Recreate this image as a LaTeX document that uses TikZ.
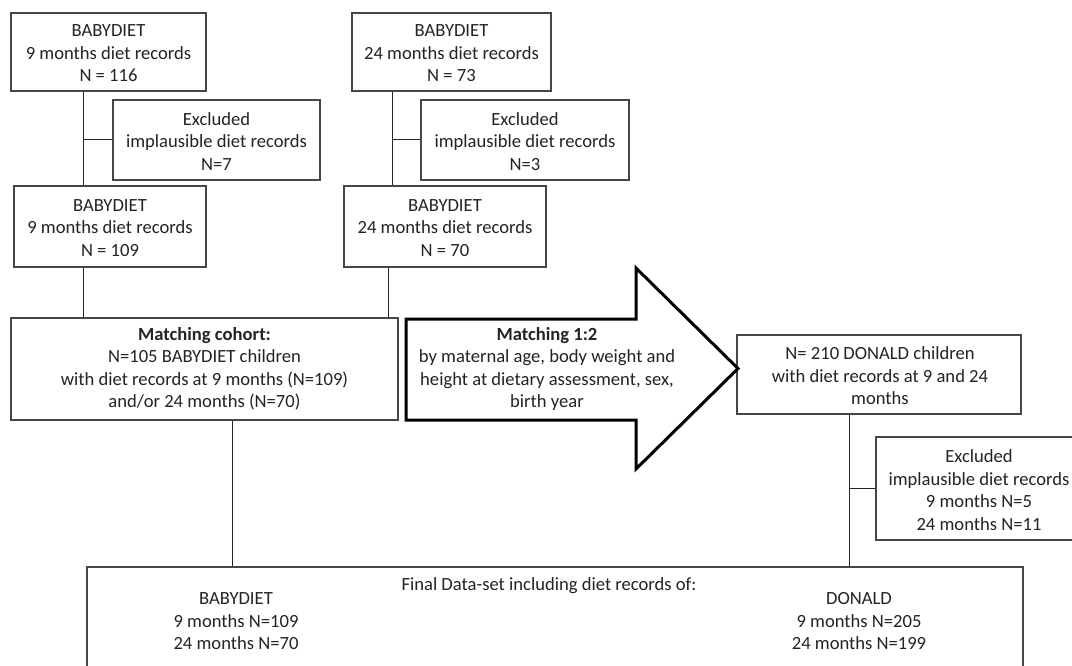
\documentclass[tikz,border=0pt]{standalone}
\usepackage{fontspec}
\setmainfont{Carlito}
\definecolor{txt}{RGB}{35,35,40}
\definecolor{bord}{RGB}{70,70,70}
\tikzset{
  box/.style={draw=bord, line width=1.3pt, fill=white, inner sep=0pt},
  lbl/.style={text=txt, align=center, inner sep=0pt, yshift=-1.5pt, font=\fontsize{18.6}{22.5}\selectfont},
  conn/.style={draw=black!85, line width=1pt},
  bigarrow/.style={draw=black, line width=3pt, line join=miter, fill=white}
}
\begin{document}
\begin{tikzpicture}[x=1pt,y=-1pt]
\useasboundingbox (0,0) rectangle (1072,666);
\clip (0,0) rectangle (1072,666);
% boxes
\node[box, minimum width=195, minimum height=78] (b9a) at (108.5,52) {};
\node[lbl] at (b9a) {BABYDIET\\9 months diet records\\N = 116};
\node[box, minimum width=199, minimum height=78] (b24a) at (451.5,52) {};
\node[lbl] at (b24a) {BABYDIET\\24 months diet records\\N = 73};
\node[box, minimum width=207, minimum height=80] (ex1) at (216.5,140) {};
\node[lbl] at (ex1) {Excluded\\implausible diet records\\N=7};
\node[box, minimum width=208, minimum height=80] (ex2) at (525,140) {};
\node[lbl] at (ex2) {Excluded\\implausible diet records\\N=3};
\node[box, minimum width=192, minimum height=81] (b9b) at (110,226.5) {};
\node[lbl] at (b9b) {BABYDIET\\9 months diet records\\N = 109};
\node[box, minimum width=202, minimum height=81] (b24b) at (445,226.5) {};
\node[lbl] at (b24b) {BABYDIET\\24 months diet records\\N = 70};
\node[box, minimum width=387, minimum height=102] (match) at (204.5,369) {};
\node[lbl] at (204.5,367.5) {\textbf{Matching cohort:}\\N=105 BABYDIET children\\with diet records at 9 months (N=109)\\and/or 24 months (N=70)};
\node[box, minimum width=284, minimum height=79] (donald) at (879,374.5) {};
\node[lbl] at (880,374.5) {N= 210 DONALD children\\with diet records at 9 and 24\\months};
\node[box, minimum width=224, minimum height=103] (ex3) at (988,488.5) {};
\node[lbl] at (979,488.5) {Excluded\\implausible diet records\\9 months N=5\\24 months N=11};
\node[box, minimum width=936, minimum height=130] (final) at (555,632) {};
\node[lbl] (ftitle) at (549,584) {Final Data-set including diet records of:};
\node[lbl] (fleft) at (236,620) {BABYDIET\\9 months N=109\\24 months N=70};
\node[lbl] (fright) at (859,620) {DONALD\\9 months N=205\\24 months N=199};
% big arrow
\draw[bigarrow] (406,319) -- (636,319) -- (636,268) -- (738,368.5) -- (636,469) -- (636,420) -- (406,420) -- cycle;
\node[lbl] (arrtext) at (547,367.5) {\textbf{Matching 1:2}\\by maternal age, body weight and\\height at dietary assessment, sex,\\birth year};
% connector coordinates
\coordinate (l1) at (83,140);
\coordinate (l2) at (392,140);
\coordinate (l3) at (388,300);
\coordinate (l4) at (232,500);
\coordinate (l5) at (849,488);
% connectors
\draw[conn] (b9a.south -| l1) -- (b9b.north -| l1);
\draw[conn] (l1) -- (l1 -| ex1.west);
\draw[conn] (b24a.south -| l2) -- (b24b.north -| l2);
\draw[conn] (l2) -- (l2 -| ex2.west);
\draw[conn] (b9b.south -| l1) -- (match.north -| l1);
\draw[conn] (b24b.south -| l3) -- (match.north -| l3);
\draw[conn] (match.south -| l4) -- (final.north -| l4);
\draw[conn] (donald.south -| l5) -- (final.north -| l5);
\draw[conn] (l5) -- (l5 -| ex3.west);
\end{tikzpicture}
\end{document}
